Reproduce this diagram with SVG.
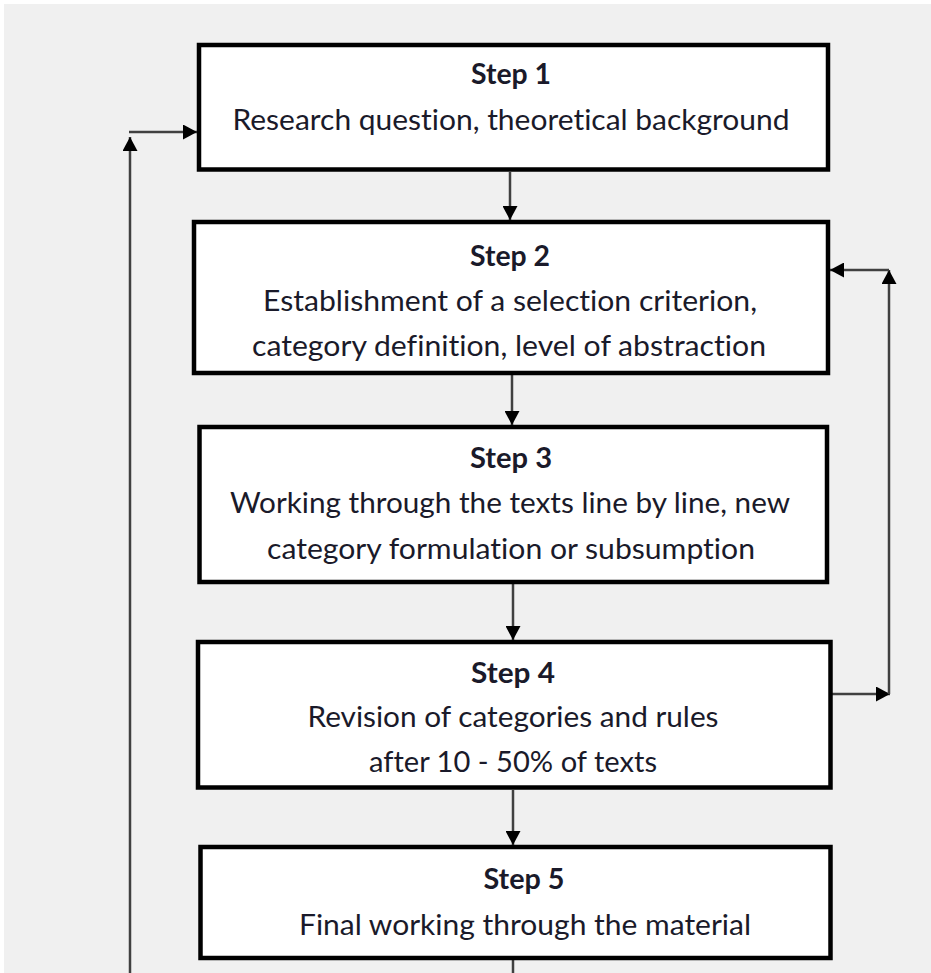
<svg xmlns="http://www.w3.org/2000/svg" width="931" height="973" viewBox="0 0 931 973">
  <style>
    .box { fill: #ffffff; stroke: #000000; stroke-width: 4.5; }
    .conn { fill: none; stroke: #404040; stroke-width: 2.5; }
    .t { font-family: Lato, "Liberation Sans", sans-serif; font-size: 28px; fill: #1a1a2a; text-anchor: middle; font-variant-ligatures: none; font-feature-settings: "liga" 0, "dlig" 0; }
    .h { font-weight: bold; }
  </style>
  <defs>
    <marker id="arrow" markerUnits="userSpaceOnUse" markerWidth="15" markerHeight="15" viewBox="0 0 15 15" refX="14" refY="7.5" orient="auto">
      <path d="M0,0 L14,7.5 L0,15 Z" fill="#000000"/>
    </marker>
  </defs>

  <!-- page background -->
  <rect x="0" y="0" width="931" height="973" fill="#ffffff"/>
  <rect x="4" y="4" width="927" height="969" fill="#f0f0f0"/>

  <!-- connectors -->
  <g id="connectors">
    <path class="conn" d="M510,172 V220" marker-end="url(#arrow)"/>
    <path class="conn" d="M512,375 V425" marker-end="url(#arrow)"/>
    <path class="conn" d="M513,584 V640" marker-end="url(#arrow)"/>
    <path class="conn" d="M513,790 V845" marker-end="url(#arrow)"/>
    <path class="conn" d="M513,960 V973"/>
    <!-- loop back to step 1 -->
    <path class="conn" d="M130,973 V137" marker-end="url(#arrow)"/>
    <path class="conn" d="M129,132 H197" marker-end="url(#arrow)"/>
    <!-- loop from step 4 back to step 2 -->
    <path class="conn" d="M832,694 H890" marker-end="url(#arrow)"/>
    <path class="conn" d="M889,694 V270" marker-end="url(#arrow)"/>
    <path class="conn" d="M889,270 H830" marker-end="url(#arrow)"/>
  </g>

  <g id="step1">
    <rect class="box" x="199" y="45" width="629" height="124.5"/>
    <text class="t h" x="511" y="84" textLength="80" lengthAdjust="spacingAndGlyphs">Step 1</text>
    <text class="t" x="511" y="130" textLength="557" lengthAdjust="spacingAndGlyphs">Research question, theoretical background</text>
  </g>

  <g id="step2">
    <rect class="box" x="194" y="222" width="634" height="151"/>
    <text class="t h" x="510" y="266" textLength="80" lengthAdjust="spacingAndGlyphs">Step 2</text>
    <text class="t" x="510" y="311" textLength="494" lengthAdjust="spacingAndGlyphs">Establishment of a selection criterion,</text>
    <text class="t" x="509" y="356" textLength="514" lengthAdjust="spacingAndGlyphs">category definition, level of abstraction</text>
  </g>

  <g id="step3">
    <rect class="box" x="199.5" y="427" width="627.5" height="155"/>
    <text class="t h" x="511" y="468" textLength="82" lengthAdjust="spacingAndGlyphs">Step 3</text>
    <text class="t" x="510" y="513" textLength="560" lengthAdjust="spacingAndGlyphs">Working through the texts line by line, new</text>
    <text class="t" x="511" y="559" textLength="488" lengthAdjust="spacingAndGlyphs">category formulation or subsumption</text>
  </g>

  <g id="step4">
    <rect class="box" x="198" y="642" width="632.5" height="145.5"/>
    <text class="t h" x="513" y="683" textLength="84" lengthAdjust="spacingAndGlyphs">Step 4</text>
    <text class="t" x="513" y="727" textLength="411" lengthAdjust="spacingAndGlyphs">Revision of categories and rules</text>
    <text class="t" x="513" y="772" textLength="288" lengthAdjust="spacingAndGlyphs">after 10 - 50% of texts</text>
  </g>

  <g id="step5">
    <rect class="box" x="200.5" y="847" width="630" height="111"/>
    <text class="t h" x="524" y="889" textLength="81" lengthAdjust="spacingAndGlyphs">Step 5</text>
    <text class="t" x="525" y="935" textLength="452" lengthAdjust="spacingAndGlyphs">Final working through the material</text>
  </g>
</svg>
